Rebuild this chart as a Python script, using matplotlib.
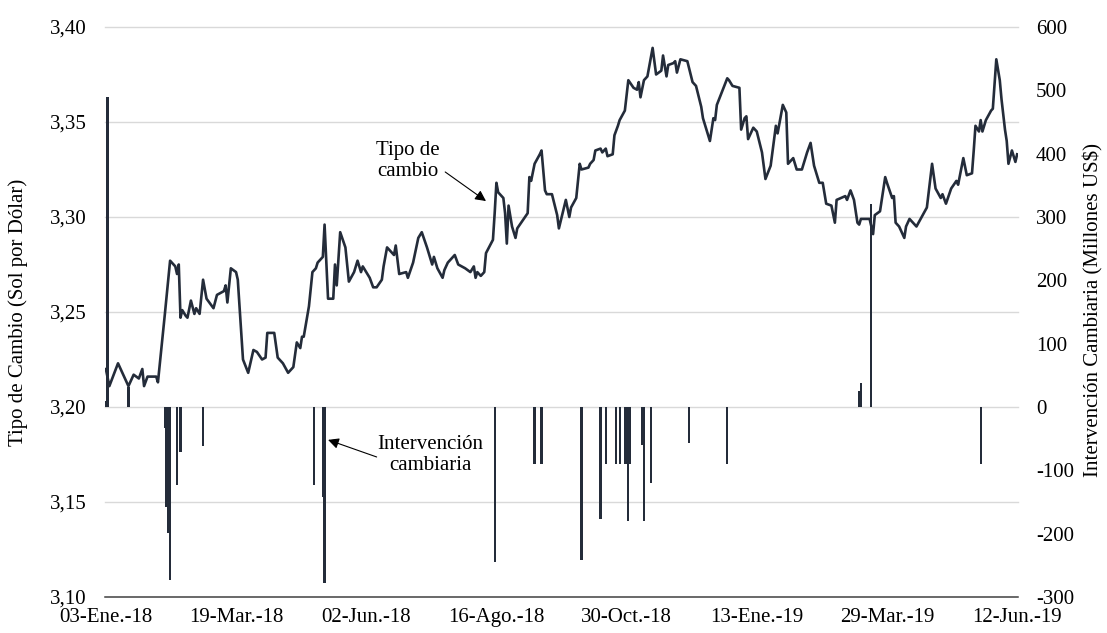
import numpy as np
import matplotlib
matplotlib.use("Agg")
import matplotlib.pyplot as plt
import matplotlib.dates as mdates
from matplotlib.ticker import FuncFormatter

plt.rcParams['font.family'] = ['Liberation Serif', 'DejaVu Serif']
plt.rcParams['axes.unicode_minus'] = False

# fecha inicial de la serie
inicio = np.datetime64('2018-01-03')

# Tipo de cambio: dias desde el 03-Ene-18 y valor (Sol por Dolar)
dias_tc = [0, 2, 7, 13, 16, 19, 21, 22, 24, 29,
           30, 34, 37, 40, 41, 42, 43, 44, 46, 47,
           49, 51, 52, 54, 56, 58, 62, 64, 68, 69,
           70, 72, 75, 76, 79, 82, 85, 87, 90, 92,
           93, 97, 99, 102, 105, 108, 110, 112, 113, 114,
           117, 119, 121, 122, 125, 126, 128, 131, 132, 133,
           135, 138, 140, 143, 145, 147, 148, 152, 154, 156,
           159, 160, 162, 166, 167, 169, 173, 174, 177, 180,
           182, 185, 188, 189, 191, 194, 195, 197, 201, 203,
           207, 210, 212, 213, 214, 216, 218, 219, 223, 224,
           225, 226, 229, 230, 231, 232, 234, 236, 237, 243,
           244, 245, 247, 250, 251, 253, 254, 257, 260, 261,
           265, 267, 268, 271, 273, 274, 278, 279, 281, 282,
           285, 286, 288, 289, 292, 293, 295, 296, 299, 301,
           304, 306, 307, 308, 310, 312, 315, 317, 320, 321,
           323, 324, 327, 328, 329, 331, 335, 338, 340, 343,
           344, 348, 350, 351, 352, 358, 359, 361, 365, 366,
           368, 369, 370, 373, 375, 378, 380, 383, 386, 387,
           390, 392, 393, 396, 398, 401, 404, 406, 408, 411,
           413, 415, 418, 420, 421, 426, 427, 429, 431, 433,
           434, 435, 440, 442, 443, 446, 449, 450, 453, 454,
           455, 457, 460, 461, 463, 467, 473, 476, 478, 481,
           482, 484, 487, 490, 491, 494, 496, 499, 500, 501,
           503, 504, 505, 507, 510, 511, 513, 515, 516, 518,
           519, 520, 522, 523, 524, 525]
tipo_cambio = [3.220, 3.211, 3.223, 3.211, 3.217, 3.215, 3.220, 3.211, 3.216, 3.216,
               3.213, 3.249, 3.277, 3.274, 3.270, 3.275, 3.247, 3.251, 3.248, 3.247,
               3.256, 3.249, 3.252, 3.249, 3.267, 3.257, 3.252, 3.259, 3.261, 3.264,
               3.255, 3.273, 3.271, 3.267, 3.225, 3.218, 3.230, 3.229, 3.225, 3.226,
               3.239, 3.239, 3.226, 3.223, 3.218, 3.221, 3.234, 3.231, 3.237, 3.237,
               3.253, 3.271, 3.273, 3.276, 3.279, 3.296, 3.257, 3.257, 3.275, 3.264,
               3.292, 3.284, 3.266, 3.271, 3.277, 3.271, 3.274, 3.268, 3.263, 3.263,
               3.267, 3.274, 3.284, 3.280, 3.285, 3.270, 3.271, 3.268, 3.276, 3.289,
               3.292, 3.284, 3.275, 3.279, 3.273, 3.268, 3.272, 3.276, 3.280, 3.275,
               3.273, 3.271, 3.274, 3.268, 3.271, 3.269, 3.271, 3.281, 3.288, 3.302,
               3.318, 3.313, 3.310, 3.302, 3.286, 3.306, 3.295, 3.289, 3.294, 3.302,
               3.321, 3.319, 3.328, 3.333, 3.335, 3.314, 3.312, 3.312, 3.301, 3.294,
               3.309, 3.300, 3.305, 3.310, 3.328, 3.325, 3.326, 3.328, 3.330, 3.335,
               3.336, 3.334, 3.336, 3.332, 3.333, 3.343, 3.348, 3.351, 3.356, 3.372,
               3.368, 3.367, 3.371, 3.363, 3.372, 3.374, 3.389, 3.375, 3.377, 3.385,
               3.374, 3.380, 3.381, 3.382, 3.376, 3.383, 3.382, 3.371, 3.369, 3.358,
               3.352, 3.340, 3.352, 3.351, 3.359, 3.373, 3.372, 3.369, 3.368, 3.346,
               3.352, 3.353, 3.341, 3.347, 3.345, 3.334, 3.320, 3.327, 3.348, 3.344,
               3.359, 3.355, 3.328, 3.331, 3.325, 3.325, 3.334, 3.339, 3.327, 3.318,
               3.318, 3.307, 3.306, 3.297, 3.309, 3.311, 3.309, 3.314, 3.309, 3.297,
               3.296, 3.299, 3.299, 3.291, 3.301, 3.303, 3.321, 3.318, 3.310, 3.311,
               3.297, 3.295, 3.289, 3.295, 3.299, 3.295, 3.305, 3.328, 3.315, 3.310,
               3.312, 3.307, 3.315, 3.319, 3.317, 3.331, 3.322, 3.323, 3.335, 3.348,
               3.345, 3.351, 3.345, 3.351, 3.356, 3.357, 3.383, 3.372, 3.362, 3.346,
               3.340, 3.328, 3.335, 3.332, 3.329, 3.333]

# Intervencion cambiaria (millones US$)
dias_int = [0, 1, 13, 34, 35, 36, 37, 41, 43, 56,
            120, 125, 126, 224, 247, 251, 274, 285, 288, 294,
            296, 299, 300, 301, 302, 309, 310, 314, 336, 358,
            434, 435, 441, 504]
intervencion = [10, 490, 32, -33, -158, -199, -273, -123, -71, -62,
                -123, -142, -278, -245, -90, -90, -242, -177, -90, -90,
                -90, -90, -90, -180, -90, -60, -180, -120, -57, -90,
                25, 38, 320, -90]

fechas_ticks = ['2018-01-03', '2018-03-19', '2018-06-02', '2018-08-16',
                '2018-10-30', '2019-01-13', '2019-03-29', '2019-06-12']
etiquetas_x = ['03-Ene.-18', '19-Mar.-18', '02-Jun.-18', '16-Ago.-18',
               '30-Oct.-18', '13-Ene.-19', '29-Mar.-19', '12-Jun.-19']

color = '#242c3a'
fs = 15

x_tc = mdates.date2num(inicio + np.array(dias_tc).astype('timedelta64[D]'))
x_int = mdates.date2num(inicio + np.array(dias_int).astype('timedelta64[D]'))
x_ticks = mdates.date2num(np.array(fechas_ticks, dtype='datetime64[D]'))

fig = plt.figure(figsize=(11.07, 6.33), dpi=100)
ax_bar = fig.add_axes([105 / 1107, 1 - 597 / 633, 913 / 1107, 570 / 633])
ax_tc = ax_bar.twinx()

# lineas de cuadricula (coinciden con los ticks del eje izquierdo)
for v in range(-150, 601, 150):
    ax_bar.axhline(v, color='#d9d9d9', linewidth=1.0, zorder=0, clip_on=False)

# barras de intervencion (eje derecho)
ax_bar.bar(x_int, intervencion, width=1.3, color=color, linewidth=0, zorder=3)
ax_bar.set_ylim(-300, 600)
ax_bar.set_yticks(range(-300, 601, 100))
ax_bar.yaxis.tick_right()
ax_bar.tick_params(axis='y', length=0, pad=13, labelsize=fs)
ax_bar.set_xlim(x_ticks[0] - 0.5, x_ticks[-1] + 0.5)
ax_bar.set_xticks(x_ticks)
ax_bar.set_xticklabels(etiquetas_x)
ax_bar.tick_params(axis='x', length=0, pad=8, labelsize=fs)
for s in ['top', 'left', 'right']:
    ax_bar.spines[s].set_visible(False)
ax_bar.spines['bottom'].set_color('#404040')
ax_bar.spines['bottom'].set_linewidth(1.1)

# tipo de cambio (eje izquierdo)
ax_tc.plot(x_tc, tipo_cambio, color=color, linewidth=1.9, zorder=4)
ax_tc.set_ylim(3.10, 3.40)
ax_tc.set_yticks(np.arange(3.10, 3.401, 0.05))
ax_tc.yaxis.set_major_formatter(FuncFormatter(lambda v, p: f'{v:.2f}'.replace('.', ',')))
ax_tc.yaxis.tick_left()
ax_tc.tick_params(axis='y', length=0, pad=13, labelsize=fs)
for s in ax_tc.spines.values():
    s.set_visible(False)

# etiquetas de ejes
fig.text(18 / 1107, 1 - 312 / 633, 'Tipo de Cambio (Sol por Dólar)', rotation=90,
         ha='center', va='center', fontsize=fs)
fig.text(1093 / 1107, 1 - 310 / 633, 'Intervención Cambiaria (Millones US$)', rotation=90,
         ha='center', va='center', fontsize=fs)

# anotaciones
d0 = mdates.date2num(inicio)
ax_tc.text(d0 + 174, 3.3295, 'Tipo de\ncambio', ha='center', va='center', fontsize=fs,
           linespacing=1.15)
ax_tc.annotate('', xy=(d0 + 219, 3.3084), xytext=(d0 + 195.5, 3.3237),
               arrowprops=dict(arrowstyle='-|>', color='black', lw=0.8,
                               mutation_scale=16, shrinkA=0, shrinkB=0))
ax_tc.text(d0 + 187, 3.1747, 'Intervención\ncambiaria', ha='center', va='center',
           fontsize=fs, linespacing=1.15)
ax_tc.annotate('', xy=(d0 + 128, 3.1827), xytext=(d0 + 156, 3.1737),
               arrowprops=dict(arrowstyle='-|>', color='black', lw=0.8,
                               mutation_scale=16, shrinkA=0, shrinkB=0))

plt.savefig('out.png', dpi=100)
plt.close(fig)
